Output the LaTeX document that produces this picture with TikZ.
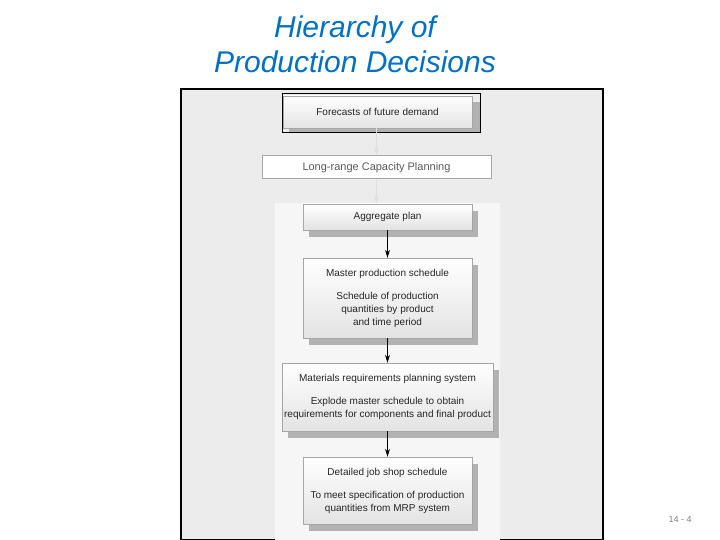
\documentclass[tikz,border=0pt]{standalone}
\usepackage{fontspec}
\setmainfont{Liberation Sans}
\usetikzlibrary{arrows.meta}
\definecolor{ttl}{RGB}{0,112,192}
\tikzset{x=1pt,y=-1pt,
 box/.style={draw=gray!70,top color=white,bottom color=gray!22,inner sep=0pt,font=\fontsize{10}{13}\selectfont\color{black!85},align=center},
 shad/.style={fill=gray!60,draw=none},
 arr/.style={-{Stealth[length=8pt,width=5pt]},thick},
 larr/.style={-{Stealth[length=8pt,width=5pt]},thick,draw=gray!25}}
\begin{document}
\begin{tikzpicture}
\useasboundingbox (0,0) rectangle (720,540);
\fill[white] (0,0) rectangle (720,540);
\node[font=\fontsize{30}{35}\selectfont\itshape,text=ttl,align=center] (title) at (355,44) {Hierarchy of\\Production Decisions};
\draw[line width=1.5pt,fill=gray!15] (181,89) rectangle (603,540);
\fill[gray!7] (275,203) rectangle (500,540);
% forecasts
\draw[line width=1pt] (282,94) rectangle (480,133);
\fill[shad] (289,102) rectangle (480,132);
\node[box,minimum width=189pt,minimum height=32pt] (f) at (377.5,112) {Forecasts of future demand};
% long-range
\node[draw=gray!70,line width=1pt,fill=white,minimum width=229pt,minimum height=23pt,font=\fontsize{11}{13}\selectfont\color{black!65}] (lr) at (376.5,167.5) {Long-range Capacity Planning};
% aggregate
\fill[shad] (309,211) rectangle (478,237);
\node[box,minimum width=169pt,minimum height=26pt] (ag) at (387.5,217) {Aggregate plan};
% master
\fill[shad] (309,265) rectangle (478,345);
\node[box,minimum width=169pt,minimum height=80pt] (mp) at (387.5,298) {Master production schedule\\[10pt]Schedule of production\\quantities by product\\and time period};
% mrp
\fill[shad] (288,370) rectangle (499,438);
\node[box,minimum width=211pt,minimum height=68pt] (mrp) at (387.5,397) {Materials requirements planning system\\[10pt]Explode master schedule to obtain\\requirements for components and final product};
% detailed
\fill[shad] (309,464) rectangle (478,531);
\node[box,minimum width=169pt,minimum height=67pt] (dj) at (387.5,490.5) {Detailed job shop schedule\\[10pt]To meet specification of production\\quantities from MRP system};
\draw[larr] (f.south -| lr.north) -- (lr.north);
\draw[larr] (lr.south) -- (lr.south |- ag.north);
\draw[arr] (ag) -- (mp);
\draw[arr] (mp) -- (mrp);
\draw[arr] (mrp) -- (dj);
\node[font=\fontsize{9}{11}\selectfont,text=gray] (pg) at (680,519) {14 - 4};
\end{tikzpicture}
\end{document}
